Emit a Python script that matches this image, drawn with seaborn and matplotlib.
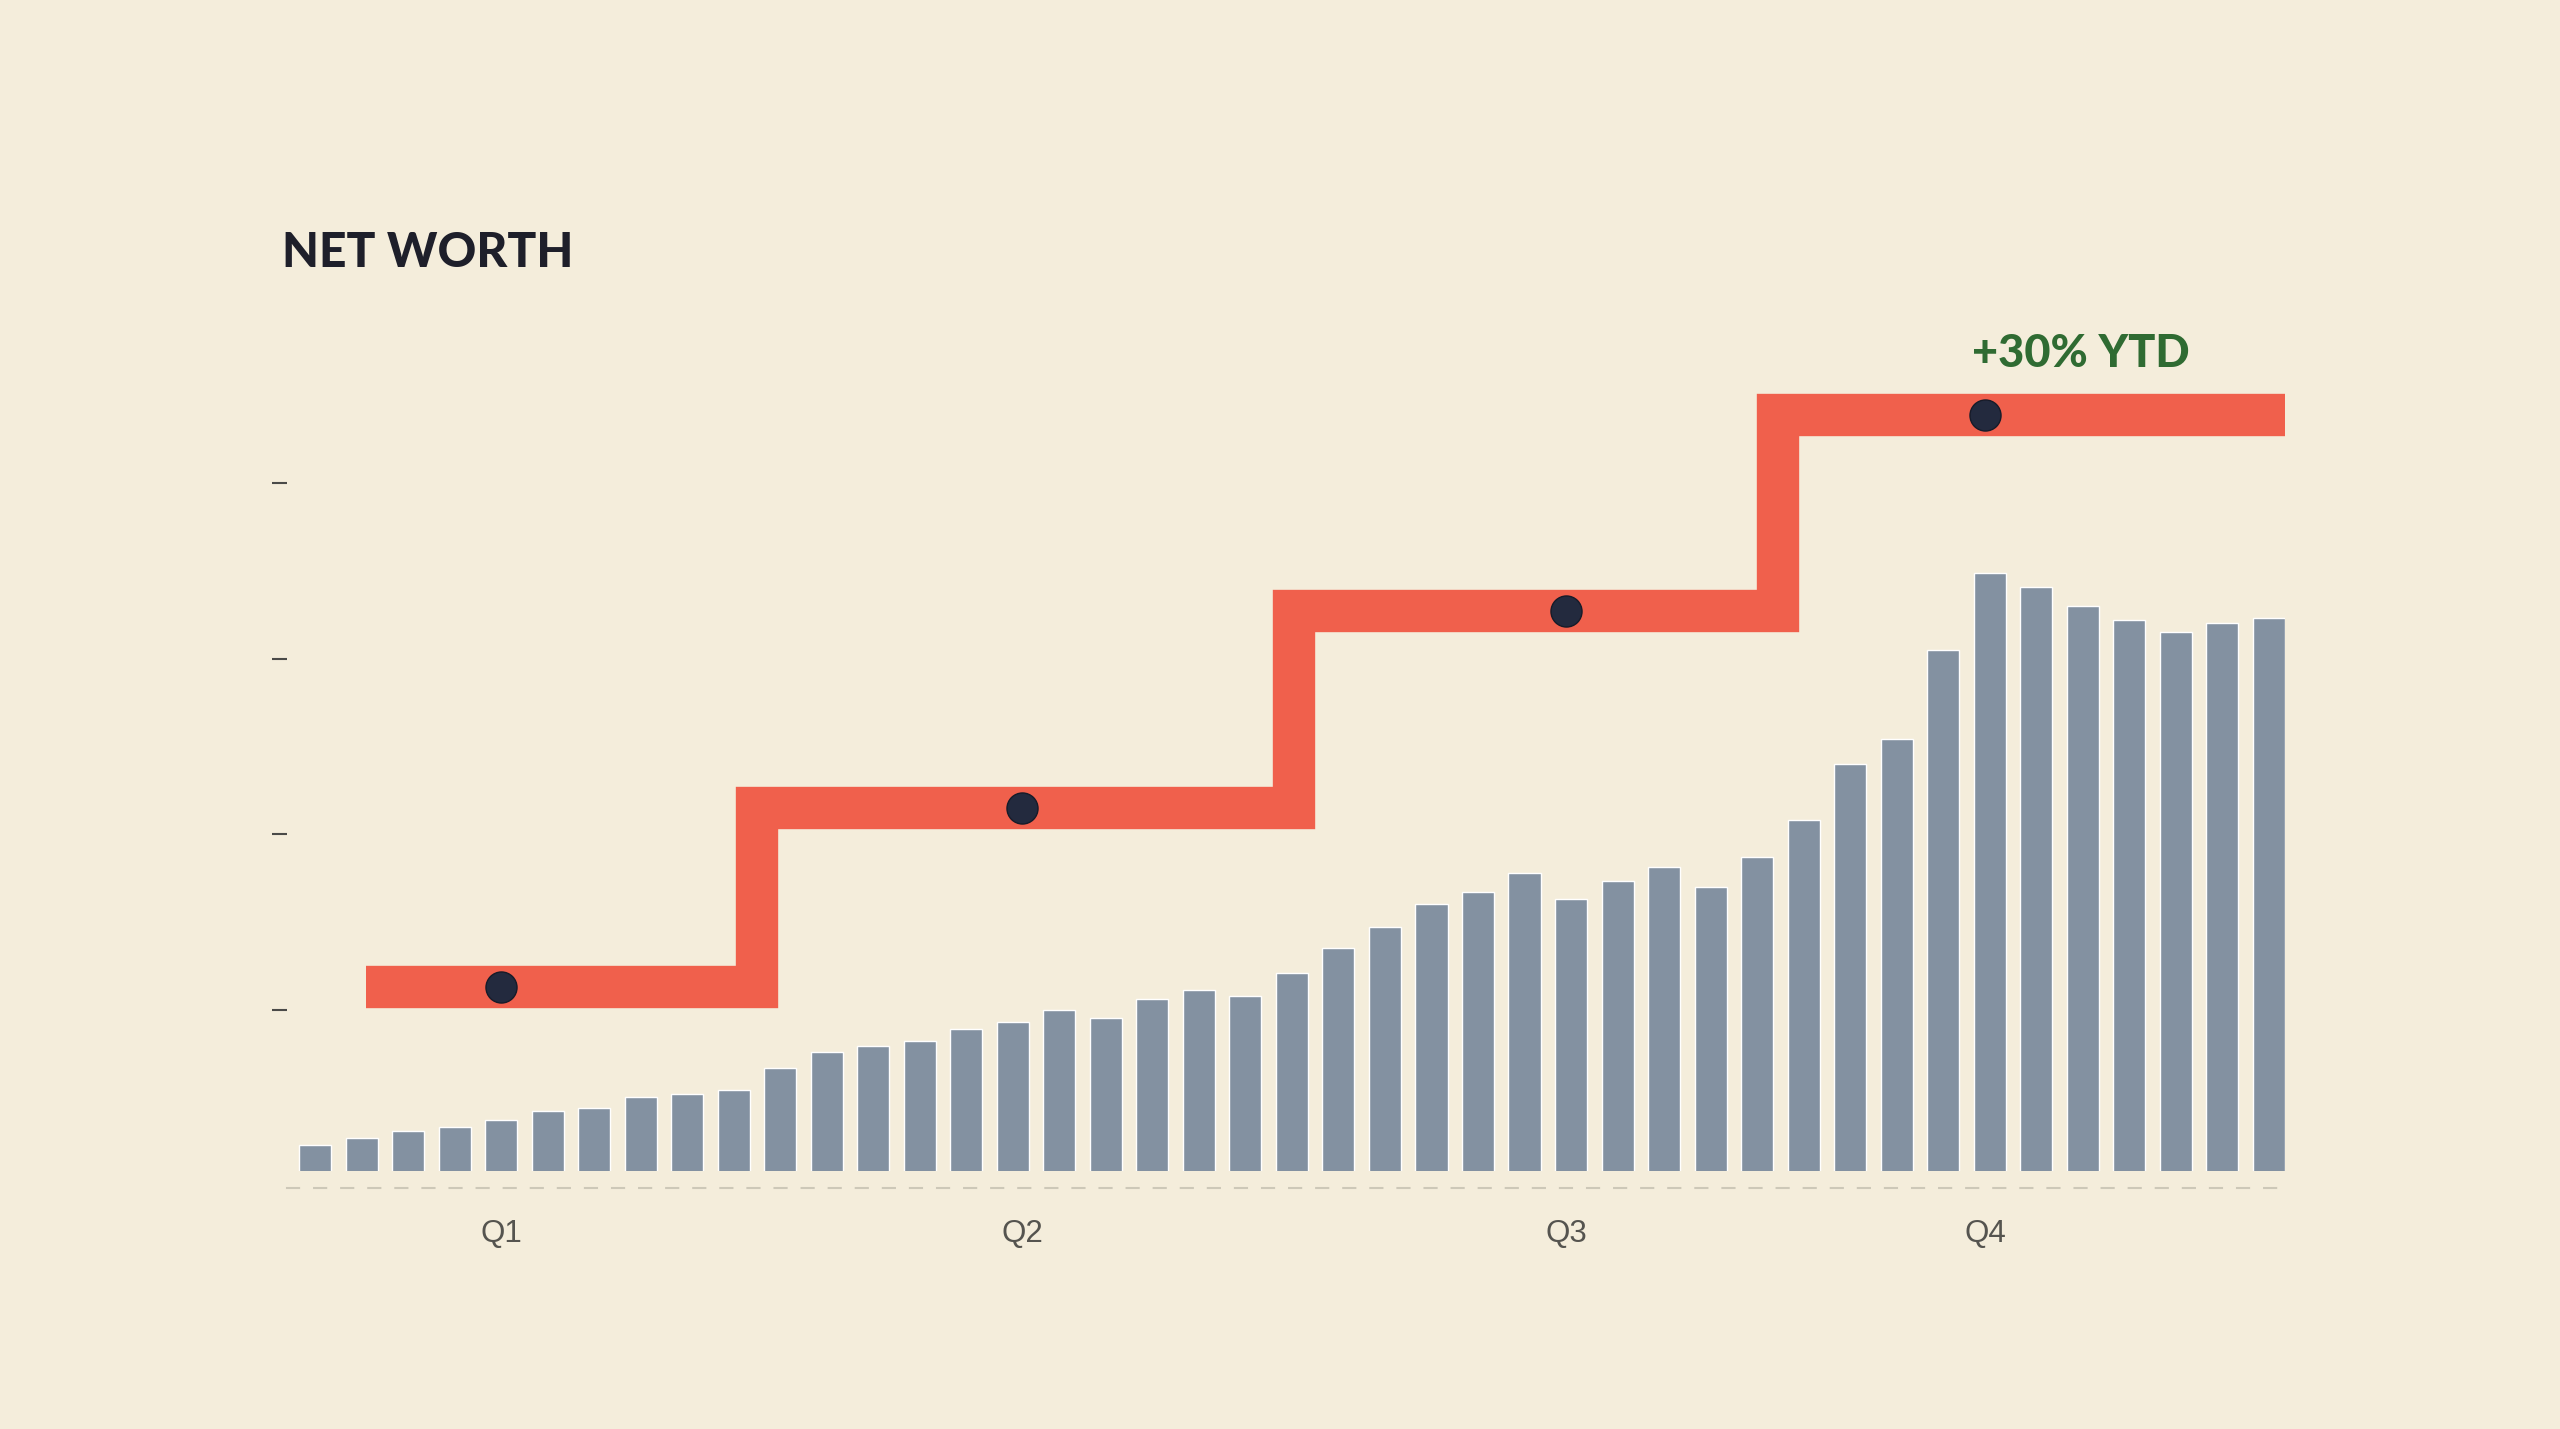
import pandas as pd
import seaborn as sns
import matplotlib.pyplot as plt

# weekly net worth ($k)
weeks = list(range(1, 44))
net_worth = [23, 27, 31, 33, 37, 42, 44, 50, 52, 54,
             67, 76, 79, 82, 89, 93, 100, 95, 106, 111,
             108, 121, 135, 147, 160, 167, 178, 163, 173, 181,
             170, 187, 208, 240, 254, 305, 349, 341, 330, 322,
             315, 320, 323]

# quarterly average line
quarters = ['Q1', 'Q2', 'Q3', 'Q4']
quarter_level = [113, 215, 327, 439]
quarter_pos = [4.0, 15.2, 26.9, 35.9]
step_edges = [1.1, 9.5, 21.05, 31.45, 42.35]
y_ticks = [100, 200, 300, 400]
ytd_label = '+30% YTD'

bg = '#f4eddb'
bar_color = '#8391a1'
red = '#f0604c'
dot_color = '#232a3e'

df = pd.DataFrame({'week': weeks, 'net_worth': net_worth})

sns.set_theme(style='white')
plt.rcParams['font.family'] = ['Liberation Sans', 'DejaVu Sans']

fig = plt.figure(figsize=(25.6, 14.29), dpi=100, facecolor=bg)
ax = fig.add_axes([0.112, 0.1805, 0.7806, 0.592], facecolor=bg)

sns.barplot(data=df, x='week', y='net_worth', color=bar_color, saturation=1,
            width=0.69, ax=ax, zorder=2)

ax.step(step_edges, quarter_level + [quarter_level[-1]], where='post', color=red,
        lw=30.5, solid_joinstyle='miter', solid_capstyle='butt', zorder=3)
sns.scatterplot(x=quarter_pos, y=quarter_level, s=500, color=dot_color,
                edgecolor='#161b29', linewidth=1, zorder=4, ax=ax)

ax.set_xlim(-0.61, 42.35)
ax.set_ylim(8, 490)
ax.set_xticks(quarter_pos, quarters)
ax.set_yticks(y_ticks, [''] * len(y_ticks))
ax.set_xlabel('')
ax.set_ylabel('')
ax.tick_params(axis='x', bottom=False, length=0, pad=22, labelsize=22.5, labelcolor='#55544f')
ax.tick_params(axis='y', left=True, length=10.8, width=1.5, color='#4a4a48', direction='out')

for side in ['top', 'right', 'left']:
    ax.spines[side].set_visible(False)
ax.spines['bottom'].set_position(('outward', 12.2))
ax.spines['bottom'].set_color('#cdc8b8')
ax.spines['bottom'].set_linewidth(1.5)
ax.spines['bottom'].set_linestyle((0, (5.8, 7.2)))

fig.text(0.110, 0.8131, 'NET WORTH', fontsize=34.5, fontweight='black',
         family=['Lato', 'DejaVu Sans'], color='#1e1f2a', va='baseline')

ax.annotate(ytd_label, xy=(quarter_pos[3], quarter_level[3]), xytext=(-13, 48),
            textcoords='offset pixels', ha='left', va='baseline', fontsize=32.5,
            fontweight='black', family=['Lato', 'DejaVu Sans'], color='#2f6b32')

fig.savefig('out.png', dpi=100, facecolor=bg)
